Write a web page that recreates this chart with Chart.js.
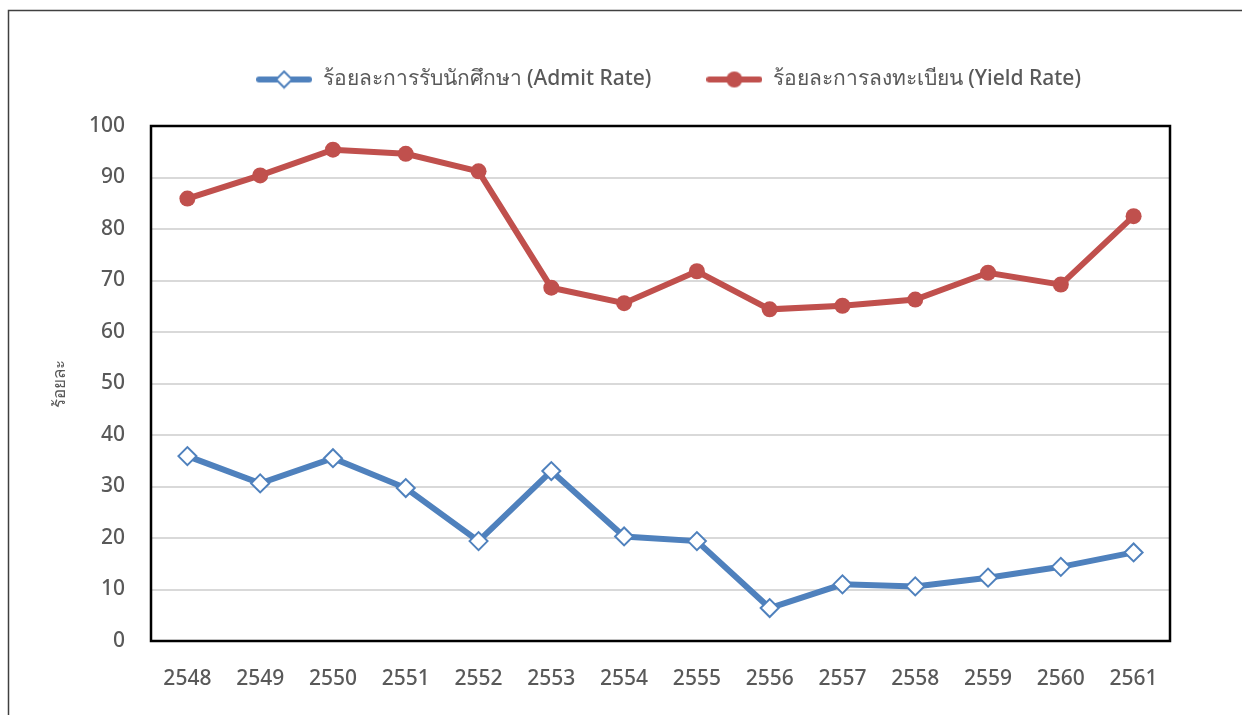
<!DOCTYPE html>
<html>
<head>
<meta charset="utf-8">
<script src="https://cdn.jsdelivr.net/npm/chart.js@4"></script>
<style>
  html, body { margin: 0; padding: 0; background: #fff; }
  #wrap { width: 1242px; height: 715px; }
</style>
</head>
<body>
<div id="wrap"><canvas id="rateChart" width="1242" height="715"></canvas></div>
<script>
// Data
const years = ['2548', '2549', '2550', '2551', '2552', '2553', '2554', '2555', '2556', '2557', '2558', '2559', '2560', '2561'];
const admitRate = [35.9, 30.6, 35.5, 29.7, 19.4, 33.0, 20.3, 19.4, 6.4, 11.0, 10.6, 12.3, 14.4, 17.2];
const yieldRate = [85.9, 90.4, 95.4, 94.6, 91.2, 68.6, 65.6, 71.8, 64.4, 65.1, 66.3, 71.5, 69.2, 82.5];
const yTicks = [0, 10, 20, 30, 40, 50, 60, 70, 80, 90, 100];

const admitLabel = 'ร้อยละการรับนักศึกษา (Admit Rate)';
const yieldLabel = 'ร้อยละการลงทะเบียน (Yield Rate)';
const blue = '#4F81BD';
const red = '#C0504D';
const textColor = '#595959';
const fontFamily = '"Noto Sans", "Open Sans", sans-serif';

// legend marker: a short line with the point symbol on it
function legendIcon(color, diamond) {
    const c = document.createElement('canvas');
    c.width = 56; c.height = 20;
    const g = c.getContext('2d');
    g.strokeStyle = color;
    g.lineWidth = 6;
    g.lineCap = 'round';
    g.beginPath(); g.moveTo(3, 10); g.lineTo(53, 10); g.stroke();
    if (diamond) {
        g.fillStyle = '#fff';
        g.lineWidth = 2;
        g.beginPath();
        g.moveTo(28, 2); g.lineTo(36, 10); g.lineTo(28, 18); g.lineTo(20, 10); g.closePath();
        g.fill(); g.stroke();
    } else {
        g.fillStyle = color;
        g.beginPath(); g.arc(28, 10, 8, 0, Math.PI * 2); g.fill();
    }
    return c;
}
const icons = [legendIcon(blue, true), legendIcon(red, false)];

// extra room under the legend, and nudge it right (the original chart was wider)
const legendSpace = {
    id: 'legendSpace',
    beforeInit(chart) {
        const legend = chart.legend;
        const fit = legend.fit;
        legend.fit = function () {
            fit.bind(legend)();
            this.height += 26;
        };
        const draw = legend.draw;
        legend.draw = function () {
            chart.ctx.save();
            chart.ctx.translate(8, 0);
            draw.bind(legend)();
            chart.ctx.restore();
        };
    }
};

// plot frame and the outer chart border
const frames = {
    id: 'frames',
    beforeDraw(chart) {
        const ctx = chart.ctx;
        ctx.save();
        ctx.strokeStyle = '#404040';
        ctx.lineWidth = 1.5;
        ctx.beginPath();
        ctx.moveTo(8.5, chart.height);
        ctx.lineTo(8.5, 10.5);
        ctx.lineTo(chart.width, 10.5);
        ctx.stroke();
        ctx.restore();
    },
    beforeDatasetsDraw(chart) {
        const a = chart.chartArea;
        const ctx = chart.ctx;
        ctx.save();
        ctx.strokeStyle = '#000';
        ctx.lineWidth = 2.5;
        ctx.strokeRect(a.left, a.top, a.right - a.left, a.bottom - a.top);
        ctx.restore();
    }
};

new Chart(document.getElementById('rateChart'), {
    type: 'line',
    data: {
        labels: years,
        datasets: [
            {
                label: admitLabel,
                data: admitRate,
                borderColor: blue,
                backgroundColor: '#fff',
                borderWidth: 6,
                pointStyle: 'rectRot',
                pointRadius: 9,
                pointBorderWidth: 2,
                pointBackgroundColor: '#fff',
                pointBorderColor: blue,
                tension: 0
            },
            {
                label: yieldLabel,
                data: yieldRate,
                borderColor: red,
                backgroundColor: red,
                borderWidth: 6,
                pointStyle: 'circle',
                pointRadius: 8,
                pointBorderWidth: 0,
                pointBackgroundColor: red,
                tension: 0
            }
        ]
    },
    options: {
        responsive: false,
        animation: false,
        layout: { padding: { top: 14, left: 8, right: 72, bottom: 0 } },
        plugins: {
            tooltip: { enabled: false },
            legend: {
                position: 'top',
                fullSize: false,
                labels: {
                    color: textColor,
                    font: { family: fontFamily, size: 21, weight: '500' },
                    padding: 55,
                    usePointStyle: true,
                    pointStyleWidth: 56,
                    generateLabels(chart) {
                        const items = Chart.defaults.plugins.legend.labels.generateLabels(chart);
                        items.forEach((it, i) => { it.pointStyle = icons[i]; });
                        return items;
                    }
                }
            }
        },
        scales: {
            x: {
                offset: true,
                grid: { display: false, drawTicks: false },
                border: { display: false },
                ticks: { color: textColor, font: { family: fontFamily, size: 21, weight: '500' }, padding: 25, maxRotation: 0 },
                afterFit(scale) { scale.height = 74; }
            },
            y: {
                min: 0,
                max: 100,
                afterBuildTicks(scale) { scale.ticks = yTicks.map(v => ({ value: v })); },
                grid: { color: '#d9d9d9', lineWidth: 2, drawTicks: false },
                border: { display: false },
                ticks: { color: textColor, font: { family: fontFamily, size: 21, weight: '500' }, padding: 26 },
                title: {
                    display: true,
                    text: 'ร้อยละ',
                    color: textColor,
                    font: { family: fontFamily, size: 17 },
                    padding: { top: 42, bottom: 0 }
                },
                afterFit(scale) { scale.width = 143; }
            }
        }
    },
    plugins: [legendSpace, frames]
});
</script>
</body>
</html>
